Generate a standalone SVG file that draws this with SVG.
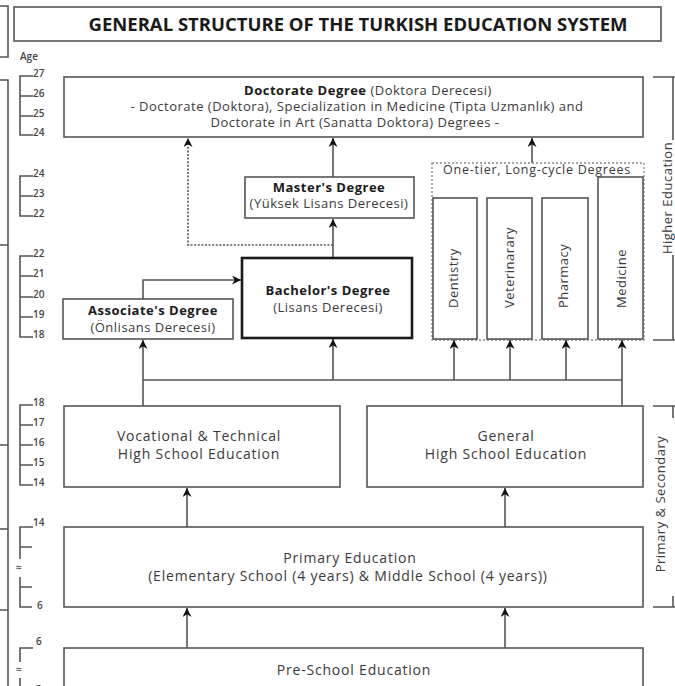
<svg xmlns="http://www.w3.org/2000/svg" width="675" height="686" viewBox="0 0 675 686">
<defs>
<marker id="ah" viewBox="0 0 10 10" refX="10" refY="5" markerWidth="10" markerHeight="9" markerUnits="userSpaceOnUse" orient="auto">
<path d="M0,0 L10,5 L0,10 L3,5 z" fill="#111"/>
</marker>
</defs>
<style>
.box{fill:#fff;stroke:#555;stroke-width:1.6}
.thick{stroke:#1a1a1a;stroke-width:2.6}
.t{font-family:"Open Sans","Liberation Sans",sans-serif;fill:#3a3a3a;text-anchor:middle}
.d{font-size:13px;letter-spacing:0.5px}
.s{font-size:14px;letter-spacing:0.8px}
.b{font-weight:bold;fill:#1a1a1a}
.v{font-family:"Open Sans","Liberation Sans",sans-serif;fill:#3a3a3a;font-size:13px;letter-spacing:0.5px}
.ln{fill:none;stroke:#555;stroke-width:1.6}
.ar{fill:none;stroke:#555;stroke-width:1.6;marker-end:url(#ah)}
.dot{stroke-dasharray:2 1.6}
.age{font-family:"Open Sans","Liberation Sans",sans-serif;font-size:10px;fill:#444;font-weight:600}
</style>

<g id="frame-left">
<path class="ln" d="M0,6 H8 V57 H0 M0,80 H8 V686 M0,245 H8 M0,445 H8 M0,529 H8 M0,610 H8"/>
</g>

<g id="title">
<rect class="box" x="14" y="7" width="647" height="34"/>
<text class="t b" x="358" y="31" font-size="18.5">GENERAL STRUCTURE OF THE TURKISH EDUCATION SYSTEM</text>
</g>

<g id="age-scale">
<text class="age" x="20" y="60">Age</text>
<path class="ln" d="M33,76 H20 V135 H33 M20,96 H33 M20,116 H33"/>
<text class="age" x="33" y="77">27</text><text class="age" x="33" y="97">26</text><text class="age" x="33" y="117">25</text><text class="age" x="33" y="136">24</text>
<path class="ln" d="M33,176 H20 V216 H33 M20,196 H33"/>
<text class="age" x="33" y="177">24</text><text class="age" x="33" y="197">23</text><text class="age" x="33" y="217">22</text>
<path class="ln" d="M33,256 H20 V337 H33 M20,276 H33 M20,297 H33 M20,317 H33"/>
<text class="age" x="33" y="257">22</text><text class="age" x="33" y="277">21</text><text class="age" x="33" y="298">20</text><text class="age" x="33" y="318">19</text><text class="age" x="33" y="338">18</text>
<path class="ln" d="M33,405 H20 V485 H33 M20,425 H33 M20,445 H33 M20,465 H33"/>
<text class="age" x="33" y="406">18</text><text class="age" x="33" y="426">17</text><text class="age" x="33" y="446">16</text><text class="age" x="33" y="466">15</text><text class="age" x="33" y="486">14</text>
<path class="ln" d="M33,527 H20 V559 M20,547 H32 M20,577 V607 H32 M20,587 H32"/>
<text class="age" x="33" y="526">14</text><text class="age" x="37" y="609">6</text>
<text class="age" x="16" y="571" font-size="9">≈</text>
<path class="ln" d="M33,648 H20 V662 M20,678 V686"/>
<text class="age" x="36" y="645">6</text>
<text class="age" x="16" y="673" font-size="9">≈</text>
<text class="age" x="36" y="693">3</text>
</g>

<g id="bracket-higher">
<path class="ln" d="M653,77 H675 M673,77 V140 M673,255 V340 M653,340 H675"/>
<text class="v" transform="translate(672,198) rotate(-90)" text-anchor="middle">Higher Education</text>
</g>
<g id="bracket-secondary">
<path class="ln" d="M653,406 H675 M673,406 V418 M673,596 V607 M653,607 H675"/>
<text class="v" transform="translate(665,504) rotate(-90)" text-anchor="middle">Primary &amp; Secondary</text>
</g>

<g id="connectors">
<path class="ln" d="M143,406 V380 H622 V406"/>
<path class="ar" d="M143,380 V340"/>
<path class="ar" d="M333,380 V339"/>
<path class="ar" d="M454,380 V340"/>
<path class="ar" d="M510,380 V340"/>
<path class="ar" d="M566,380 V340"/>
<path class="ar" d="M622,380 V340"/>
<path class="ar" d="M143,299 V280 H241"/>
<path class="ar" d="M333,257 V219"/>
<path class="ar" d="M333,177 V138"/>
<path class="ar" d="M532,163 V138"/>
<path class="ar dot" d="M333,245 H188 V138"/>
<path class="ar" d="M187,527 V488"/>
<path class="ar" d="M505,527 V488"/>
<path class="ar" d="M187,648 V608"/>
<path class="ar" d="M505,648 V608"/>
</g>

<g id="doctorate">
<rect class="box" x="64" y="77" width="579" height="60"/>
<text class="t d" x="368" y="95"><tspan class="b">Doctorate Degree</tspan> (Doktora Derecesi)</text>
<text class="t d" x="357" y="111">- Doctorate (Doktora), Specialization in Medicine (Tipta Uzmanlık) and</text>
<text class="t d" x="355" y="127">Doctorate in Art (Sanatta Doktora) Degrees -</text>
</g>

<g id="master">
<rect class="box" x="245" y="177" width="169" height="41"/>
<text class="t d b" x="329" y="192">Master's Degree</text>
<text class="t d" x="329" y="208">(Yüksek Lisans Derecesi)</text>
</g>

<g id="bachelor">
<rect class="box thick" x="242" y="258" width="170" height="80"/>
<text class="t d b" x="328" y="295">Bachelor's Degree</text>
<text class="t d" x="328" y="312">(Lisans Derecesi)</text>
</g>

<g id="associate">
<rect class="box" x="63" y="299" width="170" height="40"/>
<text class="t d b" x="153" y="315">Associate's Degree</text>
<text class="t d" x="153" y="332">(Önlisans Derecesi)</text>
</g>

<g id="long-cycle">
<rect x="432" y="163" width="212" height="177" fill="none" stroke="#888" stroke-width="1.3" stroke-dasharray="2 2"/>
<text class="t" x="537" y="174" font-size="12.5" letter-spacing="0.75">One-tier, Long-cycle Degrees</text>
</g>
<g id="dentistry">
<rect class="box" x="433" y="198" width="44" height="141"/>
<text class="v" transform="translate(458,308) rotate(-90)">Dentistry</text>
</g>
<g id="veterinary">
<rect class="box" x="487" y="198" width="45" height="141"/>
<text class="v" transform="translate(514,308) rotate(-90)">Veterinarary</text>
</g>
<g id="pharmacy">
<rect class="box" x="542" y="198" width="46" height="141"/>
<text class="v" transform="translate(568,308) rotate(-90)">Pharmacy</text>
</g>
<g id="medicine">
<rect class="box" x="598" y="177" width="45" height="162"/>
<text class="v" transform="translate(626,308) rotate(-90)">Medicine</text>
</g>

<g id="vocational">
<rect class="box" x="64" y="406" width="276" height="81"/>
<text class="t s" x="199" y="441">Vocational &amp; Technical</text>
<text class="t s" x="199" y="459">High School Education</text>
</g>
<g id="general">
<rect class="box" x="367" y="406" width="276" height="81"/>
<text class="t s" x="506" y="441">General</text>
<text class="t s" x="506" y="459">High School Education</text>
</g>
<g id="primary">
<rect class="box" x="64" y="527" width="579" height="80"/>
<text class="t s" x="350" y="563">Primary Education</text>
<text class="t s" x="348" y="581">(Elementary School (4 years) &amp; Middle School (4 years))</text>
</g>
<g id="preschool">
<rect class="box" x="64" y="648" width="579" height="60"/>
<text class="t s" x="354" y="675">Pre-School Education</text>
</g>
</svg>
